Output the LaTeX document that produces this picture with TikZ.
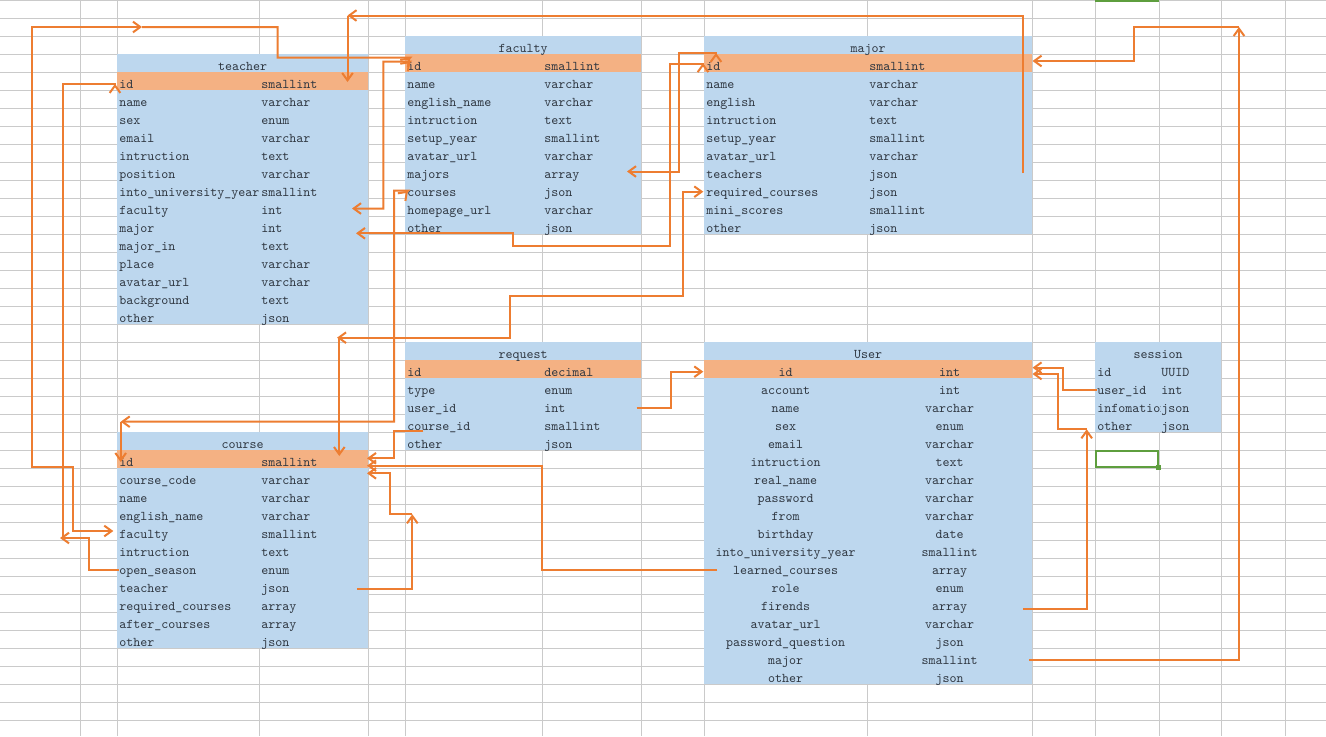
\documentclass[tikz,border=0pt]{standalone}
\usepackage{fontspec}
\usetikzlibrary{arrows.meta}
\definecolor{cblue}{HTML}{BDD7EE}
\definecolor{corange}{HTML}{F4B183}
\definecolor{lineor}{HTML}{ED7D31}
\definecolor{gridc}{HTML}{CACACA}
\definecolor{textc}{HTML}{2E3640}
\definecolor{selg}{HTML}{5E9E3E}
\newcommand\leftrows[5]{%
 \foreach \fa/\fb [count=\k from 0] in {#5}{%
   \pgfmathsetmacro\yb{18*(#4+\k)+16.2}%
   \node[txt,anchor=base west] (#1-n\k) at (#2,\yb) {\fa};
   \node[txt,anchor=base west] (#1-t\k) at (#3,\yb) {\fb};
 }}
\newcommand\centrows[5]{%
 \foreach \fa/\fb [count=\k from 0] in {#5}{%
   \pgfmathsetmacro\yb{18*(#4+\k)+16.2}%
   \node[txt,anchor=base] (#1-n\k) at (#2,\yb) {\fa};
   \node[txt,anchor=base] (#1-t\k) at (#3,\yb) {\fb};
 }}
\begin{document}
\begin{tikzpicture}[x=0.75pt,y=-0.75pt,
  txt/.style={inner sep=0pt,text=textc,font={\ttfamily\fontsize{10pt}{12pt}\selectfont}},
  gridline/.style={draw=gridc,line width=0.75pt},
  conn/.style={draw=lineor,line width=1.5pt,line join=miter},
  tip/.style={-{Straight Barb[length=5.5pt,width=8pt]}},
  tips/.style={{Straight Barb[length=5.5pt,width=8pt]}-{Straight Barb[length=5.5pt,width=8pt]}}]
\useasboundingbox (0,0) rectangle (1326,736);
\fill[white] (0,0) rectangle (1326,736);
% spreadsheet grid
\foreach \y in {0.5,18.5,...,720.5} \draw[gridline] (0,\y) -- (1326,\y);
\foreach \x in {80,117,259,368,405,542,641,704,867,1032,1095,1159,1221,1285} \draw[gridline] (\x,0) -- (\x,736);
% table fills
\fill[cblue] (117,54) rectangle (368,324);
\fill[corange] (117,72) rectangle (368,90);
\fill[cblue] (405,36) rectangle (641,234);
\fill[corange] (405,54) rectangle (641,72);
\fill[cblue] (704,36) rectangle (1032,234);
\fill[corange] (704,54) rectangle (1032,72);
\fill[cblue] (405,342) rectangle (641,450);
\fill[corange] (405,360) rectangle (641,378);
\fill[cblue] (704,342) rectangle (1032,684);
\fill[corange] (704,360) rectangle (1032,378);
\fill[cblue] (1095,342) rectangle (1221,432);
\fill[cblue] (117,432) rectangle (368,648);
\fill[corange] (117,450) rectangle (368,468);
% selection
\draw[selg,line width=1.6pt] (1095,0.8) -- (1159,0.8);
\draw[selg,line width=2pt] (1096,451) rectangle (1158,467);
\fill[selg] (1156,465) rectangle (1161,470);
% headers
\node[txt,anchor=base] (teacher-h) at (242.5,70.2) {teacher};
\node[txt,anchor=base] (faculty-h) at (523,52.2) {faculty};
\node[txt,anchor=base] (major-h) at (868,52.2) {major};
\node[txt,anchor=base] (request-h) at (523,358.2) {request};
\node[txt,anchor=base] (user-h) at (868,358.2) {User};
\node[txt,anchor=base] (session-h) at (1158,358.2) {session};
\node[txt,anchor=base] (course-h) at (242.5,448.2) {course};
% rows
\leftrows{teacher}{119}{261}{4}{id/smallint,name/varchar,sex/enum,email/varchar,intruction/text,position/varchar,into\_university\_year/smallint,faculty/int,major/int,major\_in/text,place/varchar,avatar\_url/varchar,background/text,other/json}
\leftrows{faculty}{407}{544}{3}{id/smallint,name/varchar,english\_name/varchar,intruction/text,setup\_year/smallint,avatar\_url/varchar,majors/array,courses/json,homepage\_url/varchar,other/json}
\leftrows{major}{706}{869}{3}{id/smallint,name/varchar,english/varchar,intruction/text,setup\_year/smallint,avatar\_url/varchar,teachers/json,required\_courses/json,mini\_scores/smallint,other/json}
\leftrows{request}{407}{544}{20}{id/decimal,type/enum,user\_id/int,course\_id/smallint,other/json}
\centrows{user}{785.5}{949.5}{20}{id/int,account/int,name/varchar,sex/enum,email/varchar,intruction/text,real\_name/varchar,password/varchar,from/varchar,birthday/date,into\_university\_year/smallint,learned\_courses/array,role/enum,firends/array,avatar\_url/varchar,password\_question/json,major/smallint,other/json}
\leftrows{course}{119}{261}{25}{id/smallint,course\_code/varchar,name/varchar,english\_name/varchar,faculty/smallint,intruction/text,open\_season/enum,teacher/json,required\_courses/array,after\_courses/array,other/json}
\node[txt,anchor=base west] (session-n0) at (1097,376.2) {id};
\node[txt,anchor=base west] (session-t0) at (1161,376.2) {UUID};
\node[txt,anchor=base west] (session-n1) at (1097,394.2) {user\_id};
\node[txt,anchor=base west] (session-t1) at (1161,394.2) {int};
\begin{scope}
\clip (1095,396) rectangle (1160.5,414);
\node[txt,anchor=base west] (session-n2) at (1097,412.2) {infomation};
\end{scope}
\node[txt,anchor=base west] (session-t2) at (1161,412.2) {json};
\node[txt,anchor=base west] (session-n3) at (1097,430.2) {other};
\node[txt,anchor=base west] (session-t3) at (1161,430.2) {json};
% connector end points
\coordinate (A-s) at (1022.5,173);
\coordinate (A-c) at (347.5,15.5);
\coordinate (A-e) at (347.5,82);
\coordinate (B-s) at (142,27);
\coordinate (B-e) at (113.3,531);
\coordinate (B-f) at (410,57.7);
\coordinate (C-s) at (352,208.5);
\coordinate (C-e) at (410,61.5);
\coordinate (D-s) at (356,233.3);
\coordinate (D-e) at (703,63.5);
\coordinate (E-s) at (627,171.5);
\coordinate (E-e) at (716,53.3);
\coordinate (F-s) at (408,190.7);
\coordinate (F-c) at (120.7,421.7);
\coordinate (F-e) at (120.7,462);
\coordinate (G-s) at (703.3,191.7);
\coordinate (G-c) at (339.3,337.7);
\coordinate (G-e) at (339.3,456);
\coordinate (H-s) at (357,589);
\coordinate (H-c) at (412.3,514.3);
\coordinate (H-e) at (367,473.3);
\coordinate (I-s) at (423.3,430.7);
\coordinate (I-e) at (367,458.3);
\coordinate (J-s) at (717,570);
\coordinate (J-e) at (367,465.7);
\coordinate (K-s) at (636.7,407.7);
\coordinate (K-e) at (703.3,371.7);
\coordinate (L-s) at (1096.7,389.5);
\coordinate (L-e) at (1032.5,367.7);
\coordinate (M-s) at (1023.3,609.3);
\coordinate (M-c) at (1086.7,429.3);
\coordinate (M-e) at (1032.5,374);
\coordinate (N-s) at (1029.3,660);
\coordinate (N-c) at (1239,27);
\coordinate (N-e) at (1032.5,61);
\coordinate (P-s) at (62.7,538);
\coordinate (P-e) at (115,84.3);
\coordinate (Q-s) at (119,570);
\coordinate (Q-e) at (60,538);
% connectors
\draw[conn,tip] (A-s) |- (A-c);
\draw[conn,tip] (A-c) -- (A-e);
\draw[conn,tips] (B-s) -- (31.7,27) -- (31.7,466.7) -- (73.3,466.7) -- (73.3,531) -- (B-e);
\draw[conn,tip] (B-s) -- (277.7,27) -- (277.7,57.7) -- (B-f) -- ++(0.4,-0.4);
\draw[conn,tips] (C-s) -- (383.3,208.5) -- (383.3,61.5) -- (C-e) -- ++(0.4,-0.4);
\draw[conn,tips] (D-s) -- (513.3,233.3) -- (513.3,245.5) -- (670,245.5) -- (670,63.5) -- (D-e) -- ++(0,-0.4);
\draw[conn,tips] (E-s) -- (679.3,171.5) -- (679.3,53.3) -- (E-e) -- ++(0,-0.4);
\draw[conn,tips] (F-s) -- ++(-0.01,0.01) -- (394,190.7) -- (394,421.7) -- (F-c);
\draw[conn,tip] (F-c) -- (F-e);
\draw[conn,tips] (G-s) -- (683.3,191.7) -- (683.3,296) -- (510,296) -- (510,337.7) -- (337,337.7);
\draw[conn,tip] (G-c) -- (G-e);
\draw[conn,tip] (H-s) -| (H-c);
\draw[conn,tip] (H-c) -- (390,514.3) |- (H-e);
\draw[conn,tip] (I-s) -- (394.3,430.7) |- (I-e);
\draw[conn,tip] (J-s) -- (541.5,570) |- (J-e);
\draw[conn,tip] (K-s) -- (670.7,407.7) |- (K-e);
\draw[conn,tip] (L-s) -- (1062.7,389.5) |- (L-e);
\draw[conn,tip] (M-s) -| (M-c);
\draw[conn,tip] (M-c) -- (1058.3,429.3) |- (M-e);
\draw[conn,tip] (N-s) -| (N-c);
\draw[conn,tip] (N-c) -- (1134.3,27) |- (N-e);
\draw[conn,tip] (P-s) |- (P-e) -- ++(0,-0.4);
\draw[conn,tip] (Q-s) -- (89.3,570) |- (Q-e);
\end{tikzpicture}
\end{document}
